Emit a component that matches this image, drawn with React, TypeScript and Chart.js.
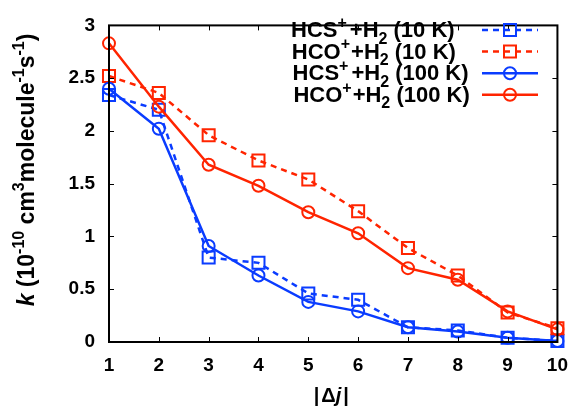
import React, { useEffect, useRef } from 'react';
import { Chart, registerables } from 'chart.js';

Chart.register(...registerables);

const deltaJ = [1, 2, 3, 4, 5, 6, 7, 8, 9, 10];
const hcs10K = [2.34, 2.2, 0.8, 0.75, 0.46, 0.4, 0.14, 0.11, 0.04, 0.01];
const hco10K = [2.52, 2.36, 1.96, 1.72, 1.54, 1.24, 0.89, 0.63, 0.28, 0.13];
const hcs100K = [2.4, 2.02, 0.91, 0.63, 0.38, 0.29, 0.14, 0.1, 0.04, 0.01];
const hco100K = [2.83, 2.23, 1.68, 1.48, 1.23, 1.03, 0.7, 0.59, 0.29, 0.12];
const yTickValues = [0, 0.5, 1, 1.5, 2, 2.5, 3];
const xTickValues = deltaJ;

const BLUE = 'rgb(10,60,255)';
const RED = 'rgb(255,36,0)';
const FONT = '"Liberation Sans", Arial, sans-serif';

type Seg = { t: string; k?: 'n' | 'sup' | 'sub' | 'it'; gap?: number };

function drawRich(ctx: CanvasRenderingContext2D, segs: Seg[], x: number, y: number, main: number, small: number, measureOnly = false) {
  let cx = x;
  for (const s of segs) {
    const kind = s.k || 'n';
    let dy = 0;
    if (kind === 'sup' || kind === 'sub') {
      ctx.font = `bold ${small}px ${FONT}`;
      dy = kind === 'sup' ? -main * 0.42 : main * 0.3;
    } else if (kind === 'it') {
      ctx.font = `italic bold ${main}px ${FONT}`;
    } else {
      ctx.font = `bold ${main}px ${FONT}`;
    }
    if (!measureOnly) ctx.fillText(s.t, cx, y + dy);
    cx += ctx.measureText(s.t).width + (s.gap || 0);
  }
  return cx - x;
}

const legendItems = [
  { label: [{ t: 'HCS' }, { t: '+', k: 'sup', gap: 3 }, { t: '+H' }, { t: '2', k: 'sub' }, { t: ' (10 K)' }] as Seg[], color: BLUE, dash: true, shape: 'rect' },
  { label: [{ t: 'HCO' }, { t: '+', k: 'sup', gap: 1 }, { t: '+H' }, { t: '2', k: 'sub' }, { t: ' (10 K)' }] as Seg[], color: RED, dash: true, shape: 'rect' },
  { label: [{ t: 'HCS' }, { t: '+', k: 'sup', gap: 3 }, { t: '+H' }, { t: '2', k: 'sub' }, { t: ' (100 K)' }] as Seg[], color: BLUE, dash: false, shape: 'circle' },
  { label: [{ t: 'HCO' }, { t: '+', k: 'sup', gap: 1 }, { t: '+H' }, { t: '2', k: 'sub' }, { t: ' (100 K)' }] as Seg[], color: RED, dash: false, shape: 'circle' },
];

const decorPlugin = {
  id: 'decor',
  afterDatasetsDraw(chart: any) {
    const ctx: CanvasRenderingContext2D = chart.ctx;
    const { left, right, top, bottom } = chart.chartArea;
    const xs = chart.scales.x;
    const ys = chart.scales.y;
    ctx.save();
    // frame
    ctx.strokeStyle = '#000';
    ctx.lineWidth = 2;
    ctx.setLineDash([]);
    ctx.strokeRect(left, top, right - left, bottom - top);
    // inward ticks
    ctx.lineWidth = 1;
    const tl = 5;
    ctx.beginPath();
    for (const v of xTickValues) {
      const px = Math.round(xs.getPixelForValue(v)) + 0.5;
      ctx.moveTo(px, bottom);
      ctx.lineTo(px, bottom - tl);
      ctx.moveTo(px, top);
      ctx.lineTo(px, top + tl);
    }
    for (const v of yTickValues) {
      const py = Math.round(ys.getPixelForValue(v)) + 0.5;
      ctx.moveTo(left, py);
      ctx.lineTo(left + tl, py);
      ctx.moveTo(right, py);
      ctx.lineTo(right - tl, py);
    }
    ctx.stroke();

    // legend
    ctx.fillStyle = '#000';
    ctx.textBaseline = 'alphabetic';
    ctx.textAlign = 'left';
    legendItems.forEach((it, i) => {
      const base = 37 + i * 21.6;
      drawRich(ctx, it.label, 291 + i * 0.8, base, 22, 16);
      const cy = base - 7;
      ctx.strokeStyle = it.color;
      ctx.lineWidth = 2.5;
      ctx.setLineDash(it.dash ? [6, 5] : []);
      ctx.beginPath();
      ctx.moveTo(482, cy);
      ctx.lineTo(538, cy);
      ctx.stroke();
      ctx.setLineDash([]);
      ctx.lineWidth = 2;
      ctx.beginPath();
      if (it.shape === 'rect') ctx.rect(504, cy - 6, 12, 12);
      else ctx.arc(510, cy, 6, 0, Math.PI * 2);
      ctx.stroke();
    });

    // x title |Δj|
    ctx.fillStyle = '#000';
    const xt: Seg[] = [{ t: '|', gap: 2 }, { t: 'Δ' }, { t: 'j', k: 'it', gap: 2 }, { t: '|' }];
    const wx = drawRich(ctx, xt, 0, 0, 20, 14, true);
    drawRich(ctx, xt, (left + right) / 2 - 2 - wx / 2, 402, 20, 14);

    // y title
    const yt: Seg[] = [
      { t: 'k', k: 'it' },
      { t: ' (10' },
      { t: '-10', k: 'sup' },
      { t: ' cm' },
      { t: '3', k: 'sup' },
      { t: 'molecule' },
      { t: '-1', k: 'sup' },
      { t: 's' },
      { t: '-1', k: 'sup' },
      { t: ')' },
    ];
    const wy = drawRich(ctx, yt, 0, 0, 23, 16, true);
    ctx.translate(34, 170);
    ctx.rotate(-Math.PI / 2);
    drawRich(ctx, yt, -wy / 2, 0, 23, 16);
    ctx.restore();
  },
};

export default function App() {
  const ref = useRef<HTMLCanvasElement | null>(null);
  useEffect(() => {
    document.body.style.margin = '0';
    const canvas = ref.current;
    if (!canvas) return;
    const mk = (label: string, data: number[], color: string, dash: boolean, style: string, order: number) => ({
      label,
      data: deltaJ.map((x, i) => ({ x, y: data[i] })),
      borderColor: color,
      backgroundColor: 'transparent',
      borderWidth: 2.5,
      borderDash: dash ? [6, 5] : [],
      pointStyle: style,
      pointRadius: style === 'rect' ? 8.5 : 6,
      pointBorderWidth: 2,
      pointBorderColor: color,
      pointBackgroundColor: 'transparent',
      tension: 0,
      clip: false,
      order,
    });
    const chart = new Chart(canvas, {
      type: 'line',
      data: {
        datasets: [
          mk('HCS+ +H2 (10 K)', hcs10K, BLUE, true, 'rect', 4),
          mk('HCO+ +H2 (10 K)', hco10K, RED, true, 'rect', 3),
          mk('HCS+ +H2 (100 K)', hcs100K, BLUE, false, 'circle', 2),
          mk('HCO+ +H2 (100 K)', hco100K, RED, false, 'circle', 1),
        ] as any,
      },
      options: {
        animation: false,
        responsive: false,
        maintainAspectRatio: false,
        devicePixelRatio: 1,
        layout: { padding: { left: 0, right: 11, top: 12, bottom: 0 } },
        plugins: { legend: { display: false }, tooltip: { enabled: false } },
        scales: {
          x: {
            type: 'linear',
            min: 1,
            max: 10,
            grid: { display: false, drawTicks: false },
            border: { display: false },
            afterFit: (s: any) => { s.height = 70; },
            afterBuildTicks: (s: any) => { s.ticks = xTickValues.map((v) => ({ value: v })); },
            ticks: {
              padding: 12,
              color: '#000',
              font: { family: FONT, size: 19, weight: 'bold' },
              autoSkip: false,
              maxRotation: 0,
              callback: (v: any) => String(v),
            },
          },
          y: {
            type: 'linear',
            min: 0,
            max: 3,
            grid: { display: false, drawTicks: false },
            border: { display: false },
            afterFit: (s: any) => { s.width = 109; },
            afterBuildTicks: (s: any) => { s.ticks = yTickValues.map((v) => ({ value: v })); },
            ticks: {
              padding: 14,
              color: '#000',
              font: { family: FONT, size: 19, weight: 'bold' },
              callback: (v: any) => String(v),
            },
          },
        },
      } as any,
      plugins: [decorPlugin],
    });
    return () => chart.destroy();
  }, []);
  return (
    <div style={{ width: 580, height: 412, background: '#fff' }}>
      <canvas ref={ref} width={580} height={412} style={{ display: 'block' }} />
    </div>
  );
}
